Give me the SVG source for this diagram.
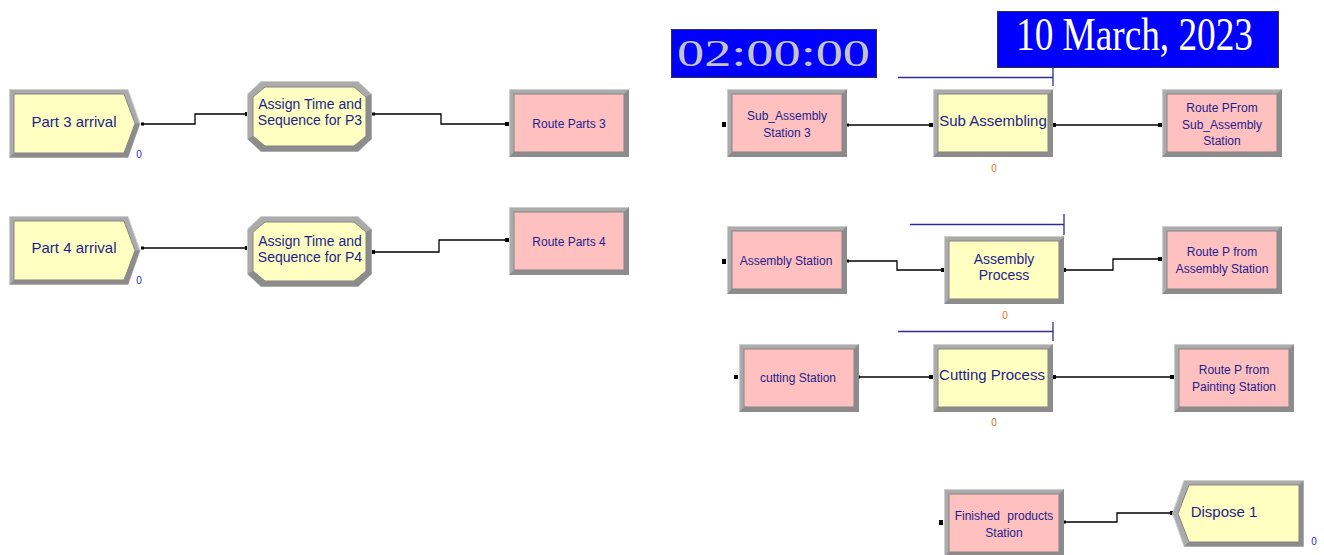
<svg xmlns="http://www.w3.org/2000/svg" width="1324" height="555" viewBox="0 0 1324 555">
  <style>
    .lbl { font-family: "Liberation Sans", Arial, sans-serif; fill: #1e1e8c; text-anchor: middle; }
    .big { font-size: 15px; }
    .two { font-size: 14px; }
    .small { font-size: 12px; }
    .cnt { font-family: "Liberation Sans", Arial, sans-serif; font-size: 10px; text-anchor: middle; }
    .cnt-b { fill: #2a2ad0; }
    .cnt-o { fill: #e0702a; }
    .wire { fill: none; stroke: #000; stroke-width: 1.3; }
    .queue { fill: none; stroke: #2e2e96; stroke-width: 1.3; }
  </style>
  <defs>
    <!-- bevelled rectangular module, pink -->
    <symbol id="boxPink" viewBox="0 0 120 68">
      <rect x="0.5" y="0.5" width="119" height="67" fill="#ababab" stroke="#cfcfcf"/>
      <polygon points="120,0 120,68 0,68 5,63 115,63 115,5" fill="#8c8c8c"/>
      <rect x="5" y="5" width="110" height="58" fill="#ffc0c0" stroke="#858585"/>
    </symbol>
    <!-- bevelled rectangular module, yellow -->
    <symbol id="boxYellow" viewBox="0 0 120 68">
      <rect x="0.5" y="0.5" width="119" height="67" fill="#ababab" stroke="#cfcfcf"/>
      <polygon points="120,0 120,68 0,68 5,63 115,63 115,5" fill="#8c8c8c"/>
      <rect x="5" y="5" width="110" height="58" fill="#ffffc2" stroke="#858585"/>
    </symbol>
    <!-- arrival (right-pointing) -->
    <symbol id="create" viewBox="0 0 132 69">
      <polygon points="0.5,0.5 119,0.5 131,34.5 119,68.5 0.5,68.5" fill="#ababab" stroke="#cfcfcf"/>
      <polygon points="131,34.5 119,68.5 0.5,68.5 5,64 115,64 126,34.5" fill="#8c8c8c"/>
      <polygon points="5,5 115,5 126,34.5 115,64 5,64" fill="#ffffc2" stroke="#858585"/>
    </symbol>
    <!-- assign (octagon) -->
    <symbol id="assign" viewBox="0 0 125 71">
      <polygon points="14,0.5 111,0.5 124.5,13 124.5,58 111,70.5 14,70.5 0.5,58 0.5,13" fill="#ababab" stroke="#cfcfcf"/>
      <polygon points="124.5,13 124.5,58 111,70.5 14,70.5 0.5,58 6,55 18,65 107,65 119,55 119,16" fill="#8c8c8c"/>
      <polygon points="18,6 107,6 119,16 119,55 107,65 18,65 6,55 6,16" fill="#ffffc2" stroke="#858585"/>
    </symbol>
    <!-- dispose (left-pointing) -->
    <symbol id="dispose" viewBox="0 0 132 67">
      <polygon points="12,0.5 131.5,0.5 131.5,66.5 12,66.5 0.5,33.5" fill="#ababab" stroke="#cfcfcf"/>
      <polygon points="131.5,0.5 131.5,66.5 12,66.5 17,62 127,62 127,5" fill="#8c8c8c"/>
      <polygon points="17,5 127,5 127,62 17,62 6,33.5" fill="#ffffc2" stroke="#858585"/>
    </symbol>
  </defs>

  <rect width="1324" height="555" fill="#ffffff"/>

  <!-- clock and date displays -->
  <g id="clock">
    <rect x="671.5" y="29.5" width="205" height="48" fill="#0000ff" stroke="#333"/>
    <text x="677" y="66" font-family="'Liberation Serif', 'Times New Roman', serif" font-size="37" fill="#c4c4c4" textLength="193" lengthAdjust="spacingAndGlyphs">02:00:00</text>
  </g>
  <g id="date">
    <rect x="997.5" y="11.5" width="281" height="56" fill="#0000ff" stroke="#333"/>
    <text x="1016" y="50" font-family="'Liberation Serif', 'Times New Roman', serif" font-size="46" fill="#ffffff" textLength="237" lengthAdjust="spacingAndGlyphs">10 March, 2023</text>
  </g>

  <!-- process queues -->
  <g id="queues">
    <path class="queue" d="M898,77.5 H1053 M1053,67 V86"/>
    <path class="queue" d="M910,224.5 H1064 M1064,214 V235"/>
    <path class="queue" d="M898,331.5 H1053 M1053,322 V341"/>
  </g>

  <!-- connectors -->
  <g id="connectors">
    <path class="wire" d="M143,124 H195 V114 H247"/>
    <path class="wire" d="M373,114 H441 V124 H507"/>
    <path class="wire" d="M143,248 H247"/>
    <path class="wire" d="M373,252 H439 V240 H507"/>
    <path class="wire" d="M848,125 H931"/>
    <path class="wire" d="M1054,125 H1160"/>
    <path class="wire" d="M848,261 H897 V270 H943"/>
    <path class="wire" d="M1064,270 H1113 V259 H1160"/>
    <path class="wire" d="M859,377 H931"/>
    <path class="wire" d="M1054,377 H1172"/>
    <path class="wire" d="M1065,522 H1117 V513 H1172"/>
    <!-- entry points -->
    <g fill="#000">
      <rect x="245" y="112" width="4" height="4"/>
      <rect x="505" y="122" width="4" height="4"/>
      <rect x="245" y="246" width="4" height="4"/>
      <rect x="505" y="238" width="4" height="4"/>
      <rect x="722" y="122" width="4" height="5"/>
      <rect x="929" y="123" width="4" height="4"/>
      <rect x="1158" y="123" width="4" height="4"/>
      <rect x="722" y="259" width="4" height="5"/>
      <rect x="941" y="268" width="4" height="4"/>
      <rect x="1158" y="257" width="4" height="4"/>
      <rect x="734" y="375" width="4" height="4"/>
      <rect x="929" y="375" width="4" height="4"/>
      <rect x="1170" y="375" width="4" height="4"/>
      <rect x="939" y="520" width="4" height="5"/>
      <rect x="1170" y="511" width="4" height="4"/>
    </g>
    <!-- exit points -->
    <g fill="#000">
      <rect x="141" y="122.5" width="3" height="3"/>
      <rect x="372" y="112.5" width="3" height="3"/>
      <rect x="141" y="246.5" width="3" height="3"/>
      <rect x="371" y="250" width="4" height="4"/>
      <rect x="847" y="123.5" width="2" height="3"/>
      <rect x="1053" y="123" width="3" height="4"/>
      <rect x="847" y="259.5" width="2" height="3"/>
      <rect x="1063" y="268" width="3" height="4"/>
      <rect x="858" y="375.5" width="2" height="3"/>
      <rect x="1053" y="375" width="3" height="4"/>
      <rect x="1064" y="520.5" width="2" height="3"/>
    </g>
  </g>

  <!-- left column -->
  <g id="part3-arrival">
    <use href="#create" x="9" y="89" width="132" height="69"/>
    <text class="lbl big" x="74" y="127">Part 3 arrival</text>
    <text class="cnt cnt-b" x="139" y="158">0</text>
  </g>
  <g id="assign-p3">
    <use href="#assign" x="247" y="81" width="125" height="71"/>
    <text class="lbl two" x="310" y="109">Assign Time and</text>
    <text class="lbl two" x="310" y="125">Sequence for P3</text>
  </g>
  <g id="route-parts-3">
    <use href="#boxPink" x="509" y="89" width="120" height="68"/>
    <text class="lbl small" x="569" y="128">Route Parts 3</text>
  </g>
  <g id="part4-arrival">
    <use href="#create" x="9" y="216" width="132" height="69"/>
    <text class="lbl big" x="74" y="253">Part 4 arrival</text>
    <text class="cnt cnt-b" x="139" y="284">0</text>
  </g>
  <g id="assign-p4">
    <use href="#assign" x="247" y="216" width="125" height="71"/>
    <text class="lbl two" x="310" y="246">Assign Time and</text>
    <text class="lbl two" x="310" y="262">Sequence for P4</text>
  </g>
  <g id="route-parts-4">
    <use href="#boxPink" x="509" y="207" width="120" height="68"/>
    <text class="lbl small" x="569" y="246">Route Parts 4</text>
  </g>

  <!-- sub assembly line -->
  <g id="sub-assembly-station-3">
    <use href="#boxPink" x="727" y="89" width="120" height="68"/>
    <text class="lbl small" x="787" y="120">Sub_Assembly</text>
    <text class="lbl small" x="787" y="137">Station 3</text>
  </g>
  <g id="sub-assembling">
    <use href="#boxYellow" x="933" y="89" width="120" height="68"/>
    <text class="lbl big" x="993" y="126">Sub Assembling</text>
    <text class="cnt cnt-o" x="994" y="172">0</text>
  </g>
  <g id="route-from-sub-assembly">
    <use href="#boxPink" x="1162" y="89" width="120" height="68"/>
    <text class="lbl small" x="1222" y="112">Route PFrom</text>
    <text class="lbl small" x="1222" y="129">Sub_Assembly</text>
    <text class="lbl small" x="1222" y="145">Station</text>
  </g>

  <!-- assembly line -->
  <g id="assembly-station">
    <use href="#boxPink" x="727" y="226" width="120" height="68"/>
    <text class="lbl small" x="786" y="265">Assembly Station</text>
  </g>
  <g id="assembly-process">
    <use href="#boxYellow" x="944" y="236" width="120" height="68"/>
    <text class="lbl two" x="1004" y="264">Assembly</text>
    <text class="lbl two" x="1004" y="280">Process</text>
    <text class="cnt cnt-o" x="1005" y="319">0</text>
  </g>
  <g id="route-from-assembly">
    <use href="#boxPink" x="1162" y="226" width="120" height="68"/>
    <text class="lbl small" x="1222" y="256">Route P from</text>
    <text class="lbl small" x="1222" y="273">Assembly Station</text>
  </g>

  <!-- cutting line -->
  <g id="cutting-station">
    <use href="#boxPink" x="739" y="344" width="120" height="68"/>
    <text class="lbl small" x="798" y="382">cutting Station</text>
  </g>
  <g id="cutting-process">
    <use href="#boxYellow" x="933" y="344" width="120" height="68"/>
    <text class="lbl big" x="992" y="380">Cutting Process</text>
    <text class="cnt cnt-o" x="994" y="426">0</text>
  </g>
  <g id="route-from-painting">
    <use href="#boxPink" x="1174" y="344" width="120" height="68"/>
    <text class="lbl small" x="1234" y="374">Route P from</text>
    <text class="lbl small" x="1234" y="391">Painting Station</text>
  </g>

  <!-- finished goods -->
  <g id="finished-products-station">
    <use href="#boxPink" x="944" y="489" width="120" height="68"/>
    <text class="lbl small" x="1004" y="520" word-spacing="4">Finished products</text>
    <text class="lbl small" x="1004" y="537">Station</text>
  </g>
  <g id="dispose-1">
    <use href="#dispose" x="1172" y="480" width="132" height="67"/>
    <text class="lbl big" x="1224" y="517">Dispose 1</text>
    <text class="cnt cnt-b" x="1314" y="545">0</text>
  </g>
</svg>
